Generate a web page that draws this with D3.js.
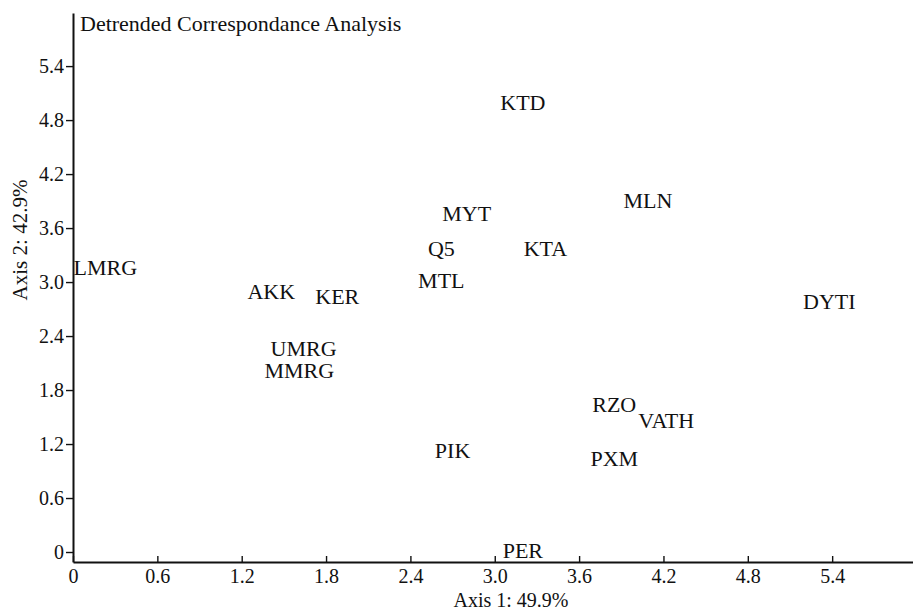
<!DOCTYPE html>
<html>
<head>
<meta charset="utf-8">
<script src="https://cdn.jsdelivr.net/npm/d3@7"></script>
<style>
  html, body { margin: 0; padding: 0; background: #fff; }
  svg { display: block; }
</style>
</head>
<body>
<svg id="chart" width="913" height="612"></svg>
<script>
// Site labels and their DCA scores
const sites = ["LMRG", "AKK", "KER", "UMRG", "MMRG", "KTD", "MLN", "MYT", "Q5", "KTA", "MTL", "DYTI", "RZO", "VATH", "PIK", "PXM", "PER"];
const axis1 = [0.23, 1.41, 1.88, 1.64, 1.61, 3.20, 4.09, 2.80, 2.62, 3.36, 2.62, 5.38, 3.85, 4.22, 2.70, 3.85, 3.20];
const axis2 = [3.16, 2.89, 2.84, 2.26, 2.01, 4.99, 3.90, 3.76, 3.37, 3.37, 3.01, 2.78, 1.64, 1.46, 1.13, 1.04, 0.01];

const xTicks = [0, 0.6, 1.2, 1.8, 2.4, 3.0, 3.6, 4.2, 4.8, 5.4];
const yTicks = [0, 0.6, 1.2, 1.8, 2.4, 3.0, 3.6, 4.2, 4.8, 5.4];
const title = "Detrended Correspondance Analysis";
const xTitle = "Axis 1: 49.9%";
const yTitle = "Axis 2: 42.9%";

const FONT = "'Liberation Serif', 'Times New Roman', Times, serif";
const INK = "#111";

const svg = d3.select("#chart");
const plotLeft = 73, plotRight = 913, plotTop = 13, plotBottom = 562;

const x = d3.scaleLinear().domain([0, 5.975]).range([plotLeft, plotRight]);
const y = d3.scaleLinear().domain([-0.111, 5.99]).range([plotBottom, plotTop]);

const fmt = v => v === 0 ? "0" : d3.format(".1f")(v);

// x axis, ticks pointing inward
const gx = svg.append("g")
  .attr("transform", `translate(0,${plotBottom})`)
  .call(d3.axisBottom(x).tickValues(xTicks).tickFormat(fmt).tickSizeInner(-6).tickSizeOuter(0).tickPadding(7));
gx.select(".domain").attr("stroke", INK).attr("stroke-width", 2.2);
gx.selectAll(".tick line").attr("stroke", INK).attr("stroke-width", 1.4);
gx.selectAll(".tick text").style("font-family", FONT).style("font-size", "20px").attr("fill", INK);

// y axis
const gy = svg.append("g")
  .attr("transform", `translate(${plotLeft},0)`)
  .call(d3.axisLeft(y).tickValues(yTicks).tickFormat(fmt).tickSizeInner(7).tickSizeOuter(0).tickPadding(2));
gy.select(".domain").attr("stroke", INK).attr("stroke-width", 2);
gy.selectAll(".tick line").attr("stroke", INK).attr("stroke-width", 1.4);
gy.selectAll(".tick text").style("font-family", FONT).style("font-size", "20px").attr("fill", INK);

// Title inside the plot area
svg.append("text")
  .attr("x", 80).attr("y", 31)
  .style("font-family", FONT).style("font-size", "22px").attr("fill", INK)
  .text(title);

// Axis titles
svg.append("text")
  .attr("x", 511).attr("y", 607)
  .attr("text-anchor", "middle")
  .style("font-family", FONT).style("font-size", "20px").attr("fill", INK)
  .text(xTitle);

svg.append("text")
  .attr("transform", "translate(27,240) rotate(-90)")
  .attr("text-anchor", "middle")
  .style("font-family", FONT).style("font-size", "21px").attr("fill", INK)
  .text(yTitle);

// Site labels placed at their scores
svg.append("g").selectAll("text")
  .data(sites)
  .join("text")
  .attr("x", (d, i) => x(axis1[i]))
  .attr("y", (d, i) => y(axis2[i]))
  .attr("dy", "0.33em")
  .attr("text-anchor", "middle")
  .style("font-family", FONT).style("font-size", "22px").attr("fill", INK)
  .text(d => d);
</script>
</body>
</html>
